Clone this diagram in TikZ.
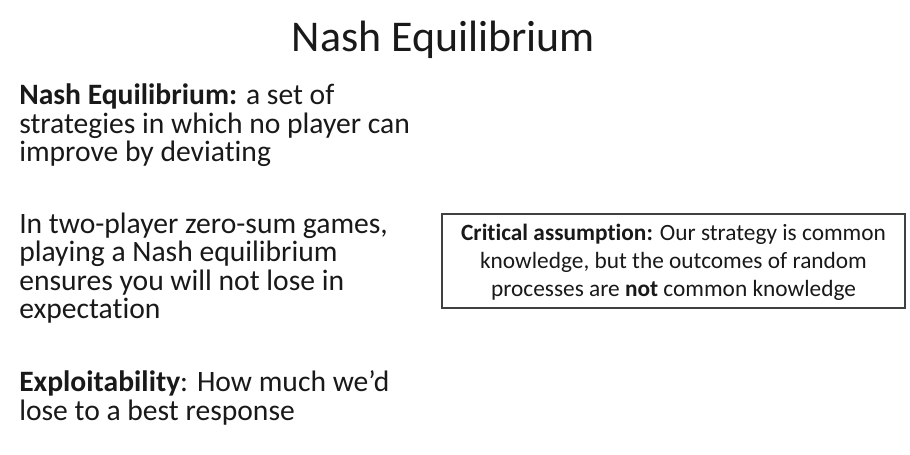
\documentclass[tikz,border=0pt]{standalone}
\usepackage{fontspec}
\setmainfont{Carlito}[Ligatures={TeX,NoCommon}]
\usepackage{tikz}

\begin{document}
\begin{tikzpicture}[x=0.75pt,y=-0.75pt,
    body/.style={anchor=base west,align=left,inner sep=0pt,text=black!90,font=\fontsize{22.2}{21.2}\selectfont}]

      \useasboundingbox[fill=white] (0,0) rectangle (910,454);
      \node[anchor=base,inner sep=0pt,text=black!90,font=\fontsize{32.9}{38}\selectfont] (title) at (443.5,51.5){Nash Equilibrium};

      % base anchor sits on the last line
      \node[body] (nash) at (19,161.5){\textbf{Nash Equilibrium:} a set of\\strategies in which no player can\\improve by deviating};
      \node[body] (zerosum) at (19,318.5){In two-player zero-sum games,\\playing a Nash equilibrium\\ensures you will not lose in\\expectation};
      \node[body] (exploit) at (19,420){\textbf{Exploitability}: How much we’d\\lose to a best response};

      \node[rectangle,draw=black!75,line width=1pt,minimum width=347.25pt,minimum height=70.5pt,inner sep=0pt] (box) at (673.5,261){};
      \node[anchor=base,align=center,inner sep=0pt,text=black!90,font=\fontsize{17.5}{21}\selectfont] (assume) at (673.5,296){\textbf{Critical assumption:} Our strategy is common\\knowledge, but the outcomes of random\\processes are \textbf{not} common knowledge};

    \end{tikzpicture}
\end{document}
